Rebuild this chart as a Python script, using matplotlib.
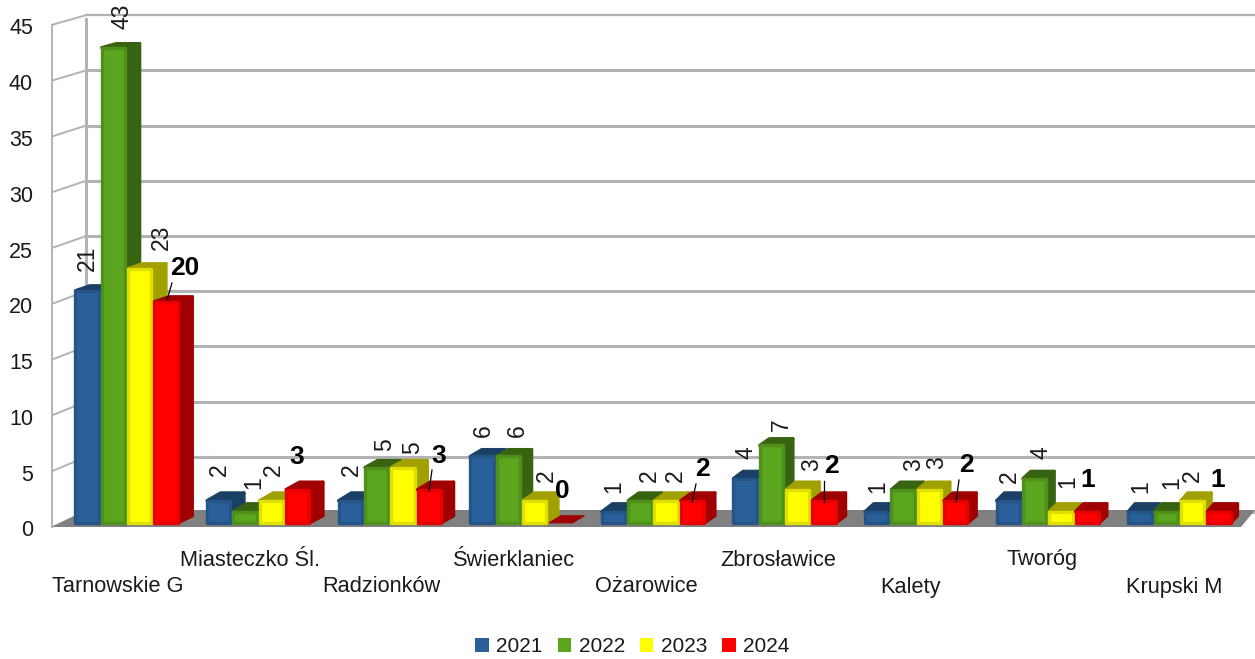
import numpy as np
import matplotlib
matplotlib.use('Agg')
import matplotlib.pyplot as plt
from matplotlib.patches import Patch

plt.rcParams['font.family'] = ['Liberation Sans', 'DejaVu Sans']

# -------------------------
# Data
# -------------------------
towns = ["Tarnowskie G", "Miasteczko Śl.", "Radzionków", "Świerklaniec", "Ożarowice",
         "Zbrosławice", "Kalety", "Tworóg", "Krupski M"]
years = ["2021", "2022", "2023", "2024"]
v2021 = [21, 2, 2, 6, 1, 4, 1, 2, 1]
v2022 = [43, 1, 5, 6, 2, 7, 3, 4, 1]
v2023 = [23, 2, 5, 2, 2, 3, 3, 1, 2]
v2024 = [20, 3, 3, 0, 2, 2, 2, 1, 1]
y_ticks = [0, 5, 10, 15, 20, 25, 30, 35, 40, 45]

# -------------------------
# Styles and layout
# -------------------------
W, H = 1255, 659
X_UNIT = 131.6   # px per category
Y_UNIT = 11.05   # px per value
X0 = 126.6       # px of first group centre
Y0 = 522.8       # px of value 0 on the front plane

front = ["#2a6099", "#5ca51e", "#ffff00", "#ff0000"]
edge = ["#255588", "#4f8f1b", "#e0e000", "#e60000"]
side = ["#1b4066", "#386412", "#a0a000", "#a00000"]
GRID = "#b3b3b3"
FLOOR = "#808080"
TXT = "#1a1a1a"

# label centres in pixels, per year then per town
pos_2021 = [(87, 258), (219, 470), (351, 470), (483, 431), (614, 487), (746, 453), (878, 487), (1009, 477), (1141, 487)]
pos_2022 = [(122, 16), (254, 483), (385, 445), (517, 431), (649, 476), (781, 425), (914, 465), (1041, 453), (1172, 483)]
pos_2023 = [(161, 237), (273, 470), (413, 448), (546, 476), (675, 476), (812, 465), (937, 463), (1068, 482), (1192, 476)]
pos_2024 = [(185, 268), (297, 457), (439, 456), (562, 491), (702, 469), (831, 466), (966, 465), (1088, 480), (1218, 480)]
# leader lines on some of the 2024 labels: town index -> px start, px end
leaders = {0: ((172, 283), (167, 300)), 2: ((432, 470), (429, 491)), 4: ((696, 484), (692, 502)),
           5: ((824, 481), (824, 502)), 6: ((959, 480), (956, 502))}


def dx(px):
    return (px - X0) / X_UNIT


def dy(px):
    return (Y0 - px) / Y_UNIT


def depth_x(i):
    return (14.5 - 0.95 * i) / X_UNIT


def depth_y(v):
    return np.interp(v, [0, 1, 5, 20, 43], [7, 8, 7, 5, 4]) / Y_UNIT


fig = plt.figure(figsize=(W / 100, H / 100), dpi=100)
ax = fig.add_axes([0, 0, 1, 1])
ax.set_xlim(dx(0), dx(W))
ax.set_ylim(dy(H), dy(0))
ax.axis("off")

# ------------------------------
# Walls and floor
# ------------------------------
for t in y_ticks:
    front_y = 527 - 11.16 * t
    back_y = 512 - 11.04 * t
    ax.plot([dx(52), dx(86)], [dy(front_y), dy(back_y)], color=GRID, lw=1.4, zorder=1)
    ax.plot([dx(86), dx(W)], [dy(back_y), dy(back_y)], color=GRID, lw=2.2 if t < 45 else 1.6, zorder=1)
    ax.text(dx(33), dy(front_y + 4), str(t), ha="right", va="center", fontsize=15.5, color=TXT)
ax.plot([dx(52), dx(52)], [dy(527), dy(25)], color=GRID, lw=1.4, zorder=1)
ax.plot([dx(86), dx(86)], [dy(512), dy(19)], color=GRID, lw=2.2, zorder=1)
ax.fill([dx(52), dx(86), dx(W), dx(1241)], [dy(527), dy(510), dy(510), dy(527)], color=FLOOR, lw=0, zorder=2)

# ------------------------------
# Bars
# ------------------------------
series = [v2021, v2022, v2023, v2024]
BAR_W = 0.2
order = 3
for i in range(len(towns)):
    for k, values in enumerate(series):
        v = values[i]
        cx = i + (k - 1.5) * BAR_W
        left = cx - BAR_W / 2 + 0.011
        right = cx + BAR_W / 2 - 0.011
        ddx = depth_x(i)
        ddy = depth_y(v)
        if v > 0:
            ax.fill([right, right + ddx, right + ddx, right], [0, depth_y(0), v + ddy, v],
                    color=side[k], lw=2.4, joinstyle="round", zorder=order)
        ax.fill([left, right, right + ddx, left + ddx], [v, v, v + ddy, v + ddy],
                color=side[k], lw=2.4 if v > 0 else 0.8, joinstyle="round", zorder=order)
        if v > 0:
            ax.bar(cx, v, width=right - left, color=front[k], edgecolor=edge[k], linewidth=2.4,
                   joinstyle="round", zorder=order + 1)
        order += 2

# ------------------------------
# Value labels
# ------------------------------
for values, pos in zip(series[:3], [pos_2021, pos_2022, pos_2023]):
    for v, (px, py) in zip(values, pos):
        ax.text(dx(px), dy(py), str(v), rotation=90, ha="center", va="center",
                fontsize=16.5, color=TXT, zorder=100)
for v, (px, py) in zip(v2024, pos_2024):
    ax.text(dx(px), dy(py), str(v), ha="center", va="center", fontsize=19,
            fontweight="bold", color="black", zorder=100)
for start, end in leaders.values():
    ax.plot([dx(start[0]), dx(end[0])], [dy(start[1]), dy(end[1])], color="black", lw=0.9, zorder=100)

# ------------------------------
# Category labels, staggered on two rows
# ------------------------------
for i, name in enumerate(towns):
    row_y = 587 if i % 2 == 0 else 560
    ax.text(dx(117.5 + 132.1 * i), dy(row_y), name, ha="center", va="center", fontsize=15.7, color=TXT)

# ------------------------------
# Legend
# ------------------------------
handles = [Patch(facecolor=c, edgecolor="none", label=y) for c, y in zip(front, years)]
ax.legend(handles=handles, loc="center", bbox_to_anchor=(632.5 / W, 1 - 646.5 / H), ncol=4,
          frameon=False, fontsize=15, handlelength=0.65, handleheight=0.65, handletextpad=0.36,
          columnspacing=0.72, borderpad=0, labelcolor=TXT)

fig.savefig("out.png", dpi=100)
plt.close(fig)
